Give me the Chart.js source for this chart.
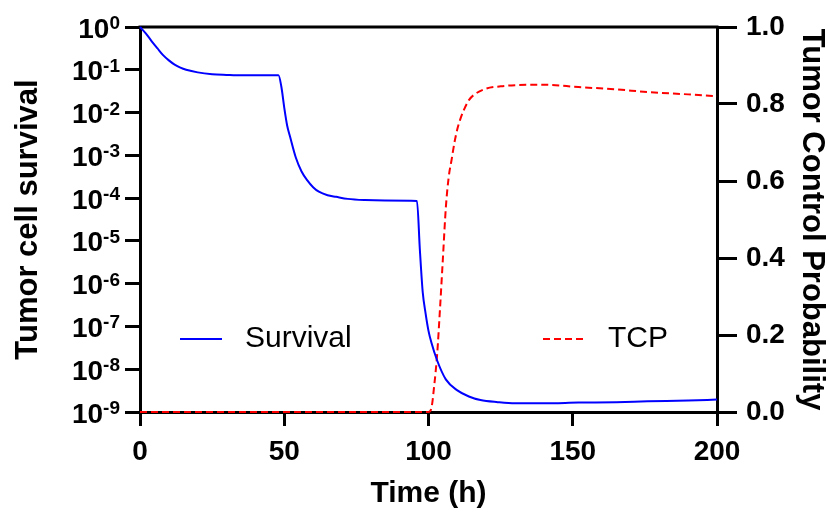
<!DOCTYPE html>
<html>
<head>
<meta charset="utf-8">
<script src="https://cdn.jsdelivr.net/npm/chart.js@4/dist/chart.umd.min.js"></script>
<style>
  html, body { margin: 0; padding: 0; background: #ffffff; }
  #wrap { width: 830px; height: 516px; }
</style>
</head>
<body>
<div id="wrap"><canvas id="chart" width="830" height="516"></canvas></div>
<script>
// Tumor cell survival fraction over time (log scale, left axis)
const survivalTime = [0, 2, 4, 6, 8, 10, 12, 14, 16, 20, 25, 30, 35, 48, 49, 50, 51, 52, 54, 56, 58, 60, 62, 65, 68, 72, 78, 85, 96, 97, 98, 99, 100, 101, 103, 106, 110, 114, 118, 124, 130, 140, 152, 165, 176, 190, 200];
const survivalValue = [1, 0.71, 0.47, 0.32, 0.22, 0.166, 0.132, 0.112, 0.100, 0.087, 0.079, 0.076, 0.074, 0.074, 0.040, 1.3e-2, 5.0e-3, 2.75e-3, 8.9e-4, 4.2e-4, 2.6e-4, 1.8e-4, 1.41e-4, 1.17e-4, 1.07e-4, 9.6e-5, 9.0e-5, 8.8e-5, 8.6e-5, 6.3e-6, 6.3e-7, 2.0e-7, 7.9e-8, 4.2e-8, 1.6e-8, 5.8e-9, 3.2e-9, 2.3e-9, 1.9e-9, 1.7e-9, 1.6e-9, 1.6e-9, 1.66e-9, 1.7e-9, 1.78e-9, 1.86e-9, 1.95e-9];

// Tumor control probability over time (linear, right axis)
const tcpTime = [0, 100, 101, 102, 103, 104, 105, 106, 107, 108, 109, 110, 111, 112, 114, 116, 120, 125, 130, 140, 152, 165, 176, 190, 200];
const tcpValue = [0, 0, 0.01, 0.07, 0.15, 0.27, 0.40, 0.53, 0.61, 0.655, 0.70, 0.735, 0.76, 0.78, 0.81, 0.825, 0.84, 0.846, 0.849, 0.85, 0.844, 0.838, 0.831, 0.825, 0.82];

// Axis ticks
const timeTicks = [0, 50, 100, 150, 200];
const survivalExponents = [0, -1, -2, -3, -4, -5, -6, -7, -8, -9];
const tcpTicks = [0, 0.2, 0.4, 0.6, 0.8, 1.0];

const seriesNames = ['Survival', 'TCP'];

const FONT = "'Liberation Sans', Arial, Helvetica, sans-serif";

const toPoints = (xs, ys) => xs.map((x, i) => ({ x: x, y: ys[i] }));

// Left axis labels: "10" with a raised exponent
const powerLabels = {
  id: 'powerLabels',
  afterDraw(chart) {
    const s = chart.scales.y;
    const ctx = chart.ctx;
    const rightEdge = s.right - 15 - 5;
    ctx.save();
    ctx.fillStyle = '#000';
    ctx.textAlign = 'right';
    ctx.textBaseline = 'alphabetic';
    survivalExponents.forEach(e => {
      const y = s.getPixelForValue(Math.pow(10, e));
      const exp = String(e);
      ctx.font = 'bold 19px ' + FONT;
      const ew = ctx.measureText(exp).width;
      ctx.fillText(exp, rightEdge, y + 2);
      ctx.font = 'bold 28px ' + FONT;
      ctx.fillText('10', rightEdge - ew, y + 10.5);
    });
    ctx.restore();
  }
};

// Top frame line across the plot
const topFrame = {
  id: 'topFrame',
  beforeDatasetsDraw(chart) {
    const a = chart.chartArea;
    const ctx = chart.ctx;
    ctx.save();
    ctx.strokeStyle = '#000';
    ctx.lineWidth = 3;
    ctx.beginPath();
    ctx.moveTo(a.left - 1.5, a.top);
    ctx.lineTo(a.right + 1.5, a.top);
    ctx.stroke();
    ctx.restore();
  }
};

// In-plot legend: two entries placed in the lower part of the plot
const inlineLegend = {
  id: 'inlineLegend',
  afterDatasetsDraw(chart) {
    const a = chart.chartArea;
    const ctx = chart.ctx;
    const entries = [
      { ds: chart.data.datasets[0], x: a.left + 40 },
      { ds: chart.data.datasets[1], x: a.left + 403 }
    ];
    const y = a.top + 312;
    ctx.save();
    entries.forEach(en => {
      ctx.strokeStyle = en.ds.borderColor;
      ctx.lineWidth = en.ds.borderWidth;
      ctx.setLineDash(en.ds.borderDash || []);
      ctx.beginPath();
      ctx.moveTo(en.x, y);
      ctx.lineTo(en.x + 42, y);
      ctx.stroke();
      ctx.setLineDash([]);
      ctx.fillStyle = '#000';
      ctx.font = '30px ' + FONT;
      ctx.textAlign = 'left';
      ctx.textBaseline = 'middle';
      ctx.fillText(en.ds.label, en.x + 65, y);
    });
    ctx.restore();
  }
};

const axisGrid = (len) => ({
  drawOnChartArea: false,
  drawTicks: true,
  tickLength: len,
  lineWidth: 3,
  color: '#000'
});

new Chart(document.getElementById('chart'), {
  type: 'line',
  data: {
    datasets: [
      {
        label: seriesNames[0],
        data: toPoints(survivalTime, survivalValue),
        yAxisID: 'y',
        borderColor: '#0000ff',
        borderWidth: 2,
        pointRadius: 0,
        cubicInterpolationMode: 'monotone',
        fill: false,
        clip: false
      },
      {
        label: seriesNames[1],
        data: toPoints(tcpTime, tcpValue),
        yAxisID: 'y2',
        borderColor: '#ff0000',
        borderWidth: 2,
        borderDash: [7, 4],
        pointRadius: 0,
        cubicInterpolationMode: 'monotone',
        fill: false,
        clip: false
      }
    ]
  },
  options: {
    responsive: false,
    animation: false,
    devicePixelRatio: 1,
    layout: { padding: { top: 27, left: 0, right: 0, bottom: 0 } },
    plugins: {
      legend: { display: false },
      tooltip: { enabled: false }
    },
    scales: {
      x: {
        type: 'linear',
        min: 0,
        max: 200,
        afterBuildTicks: s => { s.ticks = timeTicks.map(v => ({ value: v })); },
        afterFit: s => { s.height = 104; },
        border: { display: true, color: '#000', width: 3 },
        grid: axisGrid(14),
        ticks: {
          color: '#000',
          padding: 9,
          font: { family: FONT, size: 28, weight: 'bold' },
          callback: v => String(v)
        },
        title: {
          display: true,
          text: 'Time (h)',
          color: '#000',
          font: { family: FONT, size: 30, weight: 'bold' },
          padding: { top: 0, bottom: 4 }
        }
      },
      y: {
        type: 'logarithmic',
        position: 'left',
        min: 1e-9,
        max: 1,
        afterBuildTicks: s => { s.ticks = survivalExponents.map(e => ({ value: Math.pow(10, e) })); },
        afterFit: s => { s.width = 140; },
        border: { display: true, color: '#000', width: 3 },
        grid: axisGrid(15),
        ticks: {
          color: 'rgba(0,0,0,0)',
          font: { family: FONT, size: 26, weight: 'bold' },
          callback: v => '10' + Math.round(Math.log10(v))
        },
        title: {
          display: true,
          text: 'Tumor cell survival',
          color: '#000',
          font: { family: FONT, size: 31, weight: 'bold' },
          padding: { top: 10, bottom: 0 }
        }
      },
      y2: {
        type: 'linear',
        position: 'right',
        min: 0,
        max: 1,
        afterBuildTicks: s => { s.ticks = tcpTicks.map(v => ({ value: v })); },
        afterFit: s => { s.width = 113; },
        border: { display: true, color: '#000', width: 3 },
        grid: axisGrid(20),
        ticks: {
          color: '#000',
          padding: 9,
          font: { family: FONT, size: 28, weight: 'bold' },
          callback: v => Number(v).toFixed(1)
        },
        title: {
          display: true,
          text: 'Tumor Control Probability',
          color: '#000',
          font: { family: FONT, size: 31, weight: 'bold' },
          padding: { top: 0, bottom: 0 }
        }
      }
    }
  },
  plugins: [topFrame, inlineLegend, powerLabels]
});
</script>
</body>
</html>
